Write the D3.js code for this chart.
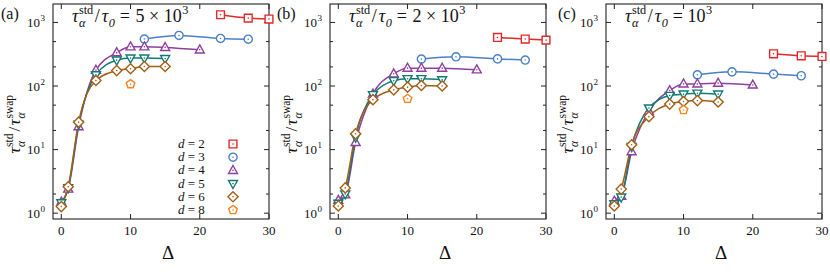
<!DOCTYPE html>
<html>
<head>
<meta charset="utf-8">
<script src="https://cdn.jsdelivr.net/npm/d3@7"></script>
<style>
  body { margin: 0; background: #fff; }
  svg { display: block; }
  text { font-family: "Liberation Serif", "DejaVu Serif", serif; fill: #111; }
</style>
</head>
<body>
<svg id="chart" width="830" height="280"></svg>
<script>
// ---- data ----
const dValues = ["2", "3", "4", "5", "6", "8"];
const colors = ["#e2292a", "#4a80c6", "#8f3f9f", "#127a72", "#a35f16", "#f5821f"];
const shapes = ["square", "circle", "triangle", "triangleDown", "diamond", "pentagon"];

// Delta values of each d series
const deltaD2 = [23, 27, 30];
const deltaD3 = [12, 17, 23, 27];
const deltaD4 = [0, 1, 2.5, 5, 8, 10, 12, 15, 20];
const deltaD5 = [0, 1, 2.5, 5, 8, 10, 12, 15];
const deltaD6 = [0, 1, 2.5, 5, 8, 10, 12, 15];
const deltaD8 = [10];

// tau_std / tau_swap, panel (a): tau_std/tau_0 = 5e3
const ratioA = [
  [1320, 1170, 1130],
  [548, 624, 560, 545],
  [1.5, 2.4, 23, 178, 335, 415, 415, 405, 371],
  [1.45, 2.5, 25, 150, 255, 275, 275, 270],
  [1.27, 2.6, 27, 122, 175, 187, 203, 203],
  [107]
];
// panel (b): tau_std/tau_0 = 2e3
const ratioB = [
  [581, 548, 528],
  [265, 288, 267, 256],
  [1.6, 1.95, 13, 75, 156, 191, 191, 191, 180],
  [1.43, 2.0, 15.7, 73, 121, 130, 130, 125],
  [1.3, 2.5, 17.7, 61, 87, 96, 102, 100],
  [63]
];
// panel (c): tau_std/tau_0 = 1e3
const ratioC = [
  [321, 299, 292],
  [150, 167, 154, 145],
  [1.55, 1.85, 9.3, 40, 85, 108, 108, 111, 104],
  [1.4, 1.79, 11.2, 45, 71, 74.5, 77, 74.5],
  [1.3, 2.39, 11.9, 33, 52, 57, 59, 56],
  [42]
];

const panelLabels = ["(a)", "(b)", "(c)"];
const titleMantissa = ["5", "2", null];
const titleExponent = ["3", "3", "3"];
const xTicks = [0, 10, 20, 30];
const yTicks = [1, 10, 100, 1000];
const yTickExp = ["0", "1", "2", "3"];
const yMinor = [2, 5, 20, 50, 200, 500];

const deltas = [deltaD2, deltaD3, deltaD4, deltaD5, deltaD6, deltaD8];
const ratios = [ratioA, ratioB, ratioC];

// ---- layout ----
const svg = d3.select("#chart");
const panelLeft = [53, 330, 606];
const labelX = [1, 277, 558];
const pw = 216, plotTop = 4, plotBottom = 219;

function symbolPath(type, s) {
  if (type === "square") return `M${-s},${-s}h${2 * s}v${2 * s}h${-2 * s}Z`;
  if (type === "circle") {
    const p = d3.path();
    p.arc(0, 0, s * 1.05, 0, 2 * Math.PI);
    p.closePath();
    return p.toString();
  }
  if (type === "triangle") return `M0,${-s * 1.25}L${s * 1.15},${s * 0.8}L${-s * 1.15},${s * 0.8}Z`;
  if (type === "triangleDown") return `M0,${s * 1.25}L${s * 1.15},${-s * 0.8}L${-s * 1.15},${-s * 0.8}Z`;
  if (type === "diamond") return `M0,${-s * 1.3}L${s * 1.3},0L0,${s * 1.3}L${-s * 1.3},0Z`;
  // pentagon
  const r = s * 1.15;
  const pts = d3.range(5).map(i => {
    const a = -Math.PI / 2 + i * 2 * Math.PI / 5;
    return [r * Math.cos(a), r * Math.sin(a)];
  });
  return "M" + pts.map(p => p.join(",")).join("L") + "Z";
}

function drawMarker(g, x, y, i) {
  const m = g.append("g").attr("transform", `translate(${x},${y})`);
  m.append("path")
    .attr("d", symbolPath(shapes[i], 3.9))
    .style("fill", "#fff")
    .style("stroke", colors[i])
    .style("stroke-width", 1.4);
  m.append("circle")
    .attr("r", 0.8)
    .style("fill", colors[i]);
}

// text with stacked sup/sub, returns end x
function scriptText(g, x, y, base, sup, sub, size, italic) {
  const t = g.append("text").attr("x", x).attr("y", y)
    .style("font-size", size + "px")
    .style("font-style", italic ? "italic" : "normal")
    .text(base);
  const w = t.node().getComputedTextLength();
  let ws = 0, wb = 0;
  if (sup) {
    const s = g.append("text").attr("x", x + w + 0.5).attr("y", y - size * 0.42)
      .style("font-size", (size * 0.68) + "px").text(sup);
    ws = s.node().getComputedTextLength();
  }
  if (sub) {
    const s = g.append("text").attr("x", x + w + 0.5).attr("y", y + size * 0.28)
      .style("font-size", (size * 0.68) + "px").style("font-style", "italic").text(sub);
    wb = s.node().getComputedTextLength();
  }
  return x + w + 0.5 + Math.max(ws, wb);
}

ratios.forEach((panel, pi) => {
  const left = panelLeft[pi];
  const x = d3.scaleLinear().domain([-1.2, 30]).range([left, left + pw]);
  const y = d3.scaleLog().domain([0.81, 1950]).range([plotBottom, plotTop]);
  const g = svg.append("g");

  // frame
  g.append("rect")
    .attr("x", left).attr("y", plotTop)
    .attr("width", pw).attr("height", plotBottom - plotTop)
    .style("fill", "none").style("stroke", "#222").style("stroke-width", 1.1);

  // x ticks (inward, mirrored)
  xTicks.forEach(t => {
    const xx = x(t);
    g.append("line").attr("x1", xx).attr("x2", xx).attr("y1", plotBottom).attr("y2", plotBottom - 5)
      .style("stroke", "#222");
    g.append("line").attr("x1", xx).attr("x2", xx).attr("y1", plotTop).attr("y2", plotTop + 5)
      .style("stroke", "#222");
    g.append("text").attr("x", xx).attr("y", plotBottom + 16)
      .attr("text-anchor", "middle").style("font-size", "13px").text(t);
  });

  // y ticks
  yTicks.forEach((t, k) => {
    const yy = y(t);
    g.append("line").attr("x1", left).attr("x2", left + 5).attr("y1", yy).attr("y2", yy).style("stroke", "#222");
    g.append("line").attr("x1", left + pw).attr("x2", left + pw - 5).attr("y1", yy).attr("y2", yy).style("stroke", "#222");
    g.append("text").attr("x", left - 13).attr("y", yy + 4.5)
      .attr("text-anchor", "end").style("font-size", "13px").text("10");
    g.append("text").attr("x", left - 12.5).attr("y", yy - 1.5)
      .style("font-size", "9px").text(yTickExp[k]);
  });
  yMinor.forEach(t => {
    const yy = y(t);
    g.append("line").attr("x1", left).attr("x2", left + 3).attr("y1", yy).attr("y2", yy).style("stroke", "#222");
    g.append("line").attr("x1", left + pw).attr("x2", left + pw - 3).attr("y1", yy).attr("y2", yy).style("stroke", "#222");
  });

  // curves
  const line = d3.line().curve(d3.curveMonotoneX)
    .x(d => x(d[0])).y(d => y(d[1]));
  panel.forEach((vals, i) => {
    if (vals.length < 2) return;
    const pts = vals.map((v, j) => [deltas[i][j], v]);
    g.append("path").attr("d", line(pts))
      .style("fill", "none").style("stroke", colors[i]).style("stroke-width", 1.5);
  });
  panel.forEach((vals, i) => {
    vals.forEach((v, j) => drawMarker(g, x(deltas[i][j]), y(v), i));
  });

  // panel label
  g.append("text").attr("x", labelX[pi]).attr("y", 19)
    .style("font-size", "16px").text(panelLabels[pi]);

  // title
  const tg = g.append("g");
  const ts = 18;
  let cx = left + 19;
  cx = scriptText(tg, cx, 22, "τ", "std", "α", ts, true);
  cx = scriptText(tg, cx + 1.5, 22, "/", null, null, ts, false);
  cx = scriptText(tg, cx + 1.5, 22, "τ", null, "0", ts, true);
  cx = scriptText(tg, cx + 5, 22, "=", null, null, ts, false);
  if (titleMantissa[pi]) {
    cx = scriptText(tg, cx + 5, 22, titleMantissa[pi], null, null, ts, false);
    cx = scriptText(tg, cx + 4, 22, "×", null, null, ts, false);
  }
  cx = scriptText(tg, cx + 4, 22, "10", titleExponent[pi], null, ts, false);

  // y label (rotated)
  const yl = g.append("g").attr("transform", `translate(${left - 33},${(plotTop + plotBottom) / 2 + 42}) rotate(-90)`);
  let lx = 0;
  lx = scriptText(yl, lx, 0, "τ", "std", "α", 17, true);
  lx = scriptText(yl, lx + 2, 0, "/", null, null, 17, false);
  lx = scriptText(yl, lx + 1, 0, "τ", "swap", "α", 17, true);

  // x label
  g.append("text").attr("x", (x(0) + x(30)) / 2 + 3).attr("y", 259)
    .attr("text-anchor", "middle").style("font-size", "19px").text("Δ");

  // legend in panel (a)
  if (pi === 0) {
    dValues.forEach((d, i) => {
      const ly = 144 + i * 13.2;
      const lt = g.append("text").attr("x", 178).attr("y", ly + 4).style("font-size", "13px");
      lt.append("tspan").style("font-style", "italic").text("d");
      lt.append("tspan").text(" = " + d);
      drawMarker(g, 233, ly, i);
    });
  }
});
</script>
</body>
</html>
